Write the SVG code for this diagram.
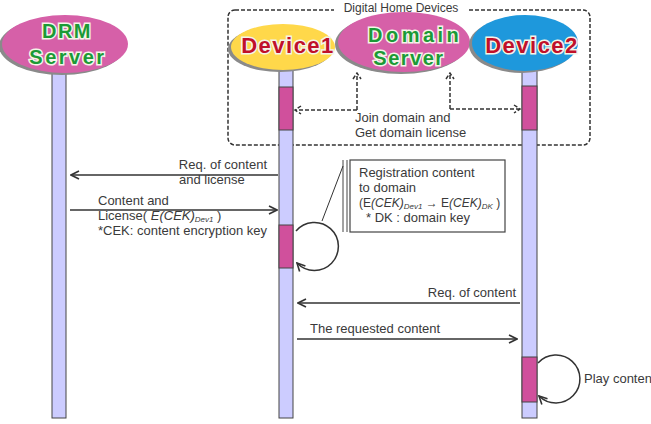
<svg xmlns="http://www.w3.org/2000/svg" width="651" height="424" viewBox="0 0 651 424">
<defs>
<marker id="ah" viewBox="0 0 10 10" refX="9" refY="5" markerWidth="10" markerHeight="10" markerUnits="userSpaceOnUse" orient="auto">
<path d="M1 1 L9 5 L1 9" fill="none" stroke="#333" stroke-width="1.6"/>
</marker>
<clipPath id="domclip"><ellipse cx="404" cy="42" rx="65" ry="29"/></clipPath>
</defs>
<style>
.life{fill:#ccccff;stroke:#444;stroke-width:1}
.act{fill:#d0509c;stroke:#444;stroke-width:1}
.shadow{fill:#8a8a8a}
.nm{font-family:"Liberation Sans",Arial,sans-serif;font-weight:bold;stroke:#f4f4e8;stroke-width:3;paint-order:stroke}
.g{fill:#1b9a36;font-size:20px}
.r{fill:#c0102a;font-size:22px}
.lbl{font-family:"Liberation Sans",Arial,sans-serif;font-size:13px;fill:#3a3a3a}
.sub{font-style:italic;font-size:8px}
.msg{fill:none;stroke:#333;stroke-width:1.5;marker-end:url(#ah)}
.dmsg{fill:none;stroke:#333;stroke-width:1.5;stroke-dasharray:4 2}
</style>

<g id="domain-group">
<rect x="228" y="10" width="362" height="135" rx="7" fill="none" stroke="#333" stroke-width="1.5" stroke-dasharray="4 2"/>
<rect x="334" y="2" width="134" height="14" fill="#fff"/>
<text class="lbl" x="401" y="12" text-anchor="middle" style="font-size:12px">Digital Home Devices</text>
</g>

<g id="drm-server">
<rect class="life" x="52" y="72" width="14" height="346"/>
<ellipse class="shadow" cx="62" cy="46" rx="63" ry="29"/>
<ellipse cx="65" cy="44" rx="63" ry="29" fill="#d660a8"/>
<text class="nm g" x="67" y="38" text-anchor="middle" style="letter-spacing:1.5px">DRM</text>
<text class="nm g" x="68" y="64" text-anchor="middle" style="letter-spacing:2.5px">Server</text>
</g>

<g id="device1">
<rect class="life" x="279" y="68" width="14" height="350"/>
<rect class="act" x="279" y="87" width="14" height="43"/>
<rect class="act" x="279" y="225" width="14" height="43"/>
<ellipse class="shadow" cx="280" cy="49" rx="52" ry="23"/>
<ellipse cx="283" cy="47" rx="52" ry="23" fill="#ffd84a"/>
<text class="nm r" x="288" y="53" text-anchor="middle" style="letter-spacing:1.5px">Device1</text>
</g>

<g id="domain-server">
<ellipse class="shadow" cx="401" cy="44" rx="66" ry="30"/>
<ellipse cx="404" cy="42" rx="66" ry="30" fill="#d660a8"/>
<g clip-path="url(#domclip)">
<text class="nm g" x="368" y="42" style="letter-spacing:3.5px">Domain</text>
</g>
<text class="nm g" x="409" y="65" text-anchor="middle" style="letter-spacing:1.5px">Server</text>
</g>

<g id="device2">
<rect class="life" x="522" y="68" width="15" height="350"/>
<rect class="act" x="522" y="86" width="15" height="44"/>
<rect class="act" x="522" y="357" width="15" height="45"/>
<ellipse class="shadow" cx="522" cy="45" rx="53" ry="28"/>
<ellipse cx="525" cy="43" rx="53" ry="28" fill="#1e98dc"/>
<text class="nm r" x="532" y="53" text-anchor="middle" style="letter-spacing:1.5px">Device2</text>
</g>

<g id="note">
<line x1="343" y1="160" x2="343" y2="232" stroke="#444" stroke-width="1"/>
<line x1="347" y1="160" x2="347" y2="232" stroke="#444" stroke-width="1"/>
<rect x="350" y="160" width="155" height="72" fill="#fff" stroke="#444" stroke-width="1.2"/>
<text class="lbl" x="359" y="177">Registration content</text>
<text class="lbl" x="359" y="192">to domain</text>
<text class="lbl" x="359" y="207" style="font-size:12px">(E<tspan font-style="italic">(CEK)</tspan><tspan class="sub" dy="2">Dev1</tspan><tspan dy="-2" font-weight="bold"> → </tspan><tspan>E</tspan><tspan font-style="italic">(CEK)</tspan><tspan class="sub" dy="2">DK</tspan><tspan dy="-2"> )</tspan></text>
<text class="lbl" x="366" y="222">* DK : domain  key</text>
</g>

<g id="connectors">
<path class="dmsg" d="M357 110 V74 M353 79 L357 73 L361 79 M357 110 H296 M301 106 L295 110 L301 114"/>
<path class="dmsg" d="M450 109 V74 M446 79 L450 73 L454 79 M450 109 H519 M514 105 L520 109 L514 113"/>
<text class="lbl" x="355" y="122">Join domain  and</text>
<text class="lbl" x="355" y="137">Get domain  license</text>

<path class="msg" d="M278 175 H71"/>
<text class="lbl" x="267" y="169" text-anchor="end">Req. of content</text>
<text class="lbl" x="179" y="184">and license</text>

<path class="msg" d="M70 210 H277"/>
<text class="lbl" x="98" y="205">Content and</text>
<text class="lbl" x="98" y="220">License( <tspan font-style="italic">E(CEK)</tspan><tspan class="sub" dy="2">Dev1</tspan><tspan dy="-2"> )</tspan></text>
<text class="lbl" x="98" y="235">*CEK: content encryption key</text>

<path class="msg" d="M296 231 A24 24 0 1 1 297 263"/>
<line x1="322" y1="221" x2="343" y2="166" stroke="#333" stroke-width="1"/>

<path class="msg" d="M520 303 H298"/>
<text class="lbl" x="516" y="297" text-anchor="end">Req. of content</text>
<path class="msg" d="M297 339 H517"/>
<text class="lbl" x="310" y="333">The requested content</text>

<path class="msg" d="M538 363 A24 24 0 1 1 539 396"/>
<text class="lbl" x="584" y="383">Play conten</text>
</g>
</svg>
